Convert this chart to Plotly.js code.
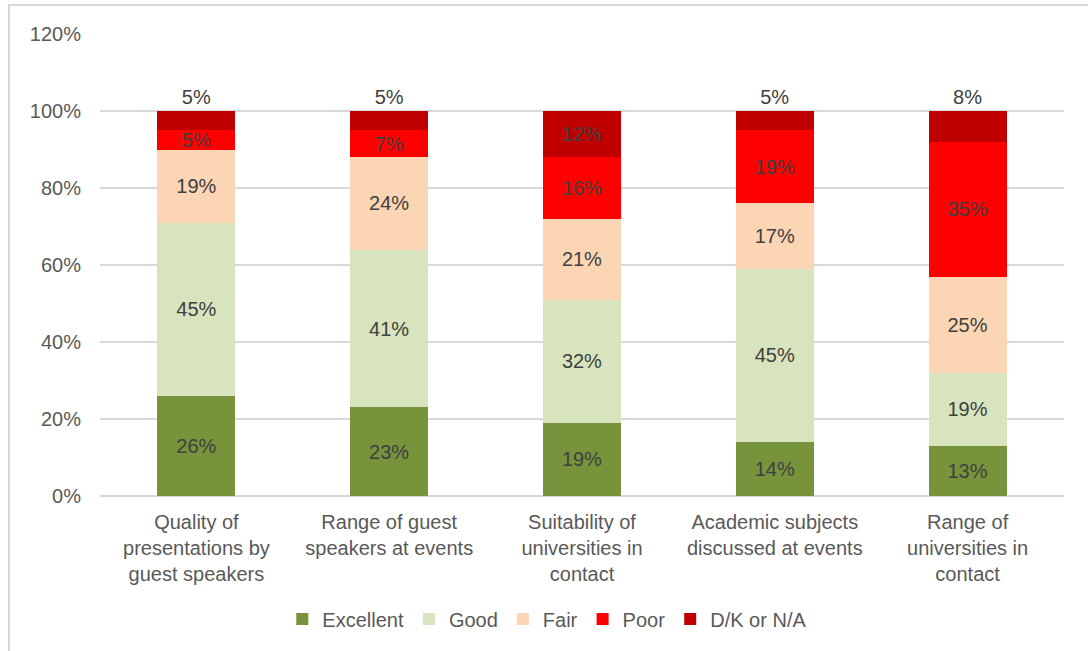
<!DOCTYPE html>
<html>
<head>
<meta charset="utf-8">
<script src="https://cdn.plot.ly/plotly-3.0.1.min.js"></script>
<style>
html,body{margin:0;padding:0;background:#fff;}
#frame{position:absolute;left:8px;top:4px;width:1100px;height:700px;border-left:2px solid #d9d9d9;border-top:2px solid #d9d9d9;}
#chart{position:absolute;left:0;top:0;width:1088px;height:651px;}
</style>
</head>
<body>
<div id="frame"></div>
<div id="chart"></div>
<script>
const categories = [
  "Quality of<br>presentations by<br>guest speakers",
  "Range of guest<br>speakers at events",
  "Suitability of<br>universities in<br>contact",
  "Academic subjects<br>discussed at events",
  "Range of<br>universities in<br>contact"
];
const seriesNames = ["Excellent", "Good", "Fair", "Poor", "D/K or N/A"];
const excellent = [26, 23, 19, 14, 13];
const good = [45, 41, 32, 45, 19];
const fair = [19, 24, 21, 17, 25];
const poor = [5, 7, 16, 19, 35];
const dk = [5, 5, 12, 5, 8];
const colors = ["#77933C", "#D7E4BD", "#FCD5B5", "#FF0000", "#C00000"];
const yTicks = [0, 20, 40, 60, 80, 100, 120];

const allValues = [excellent, good, fair, poor, dk];
const font = "Liberation Sans, Arial, sans-serif";

const traces = allValues.map((vals, i) => {
  const last = i === allValues.length - 1;
  return {
    type: "bar",
    name: seriesNames[i],
    x: categories,
    y: vals,
    marker: {color: colors[i], line: {width: 0}},
    text: vals.map(v => v + "%"),
    textposition: last ? vals.map(v => v >= 10 ? "inside" : "outside") : "inside",
    insidetextanchor: "middle",
    constraintext: "none",
    textangle: 0,
    textfont: {family: font, size: 20, color: "#404040"},
    outsidetextfont: {family: font, size: 20, color: "#404040"},
    insidetextfont: {family: font, size: 20, color: "#404040"},
    hoverinfo: "skip",
    cliponaxis: false
  };
});

const layout = {
  width: 1088,
  height: 651,
  paper_bgcolor: "rgba(0,0,0,0)",
  plot_bgcolor: "rgba(0,0,0,0)",
  barmode: "stack",
  bargap: 0.595,
  margin: {l: 100, r: 24, t: 34, b: 155, pad: 0},
  font: {family: font, size: 20, color: "#595959"},
  xaxis: {
    type: "category",
    showgrid: false,
    showline: false,
    ticks: "",
    ticklabelstandoff: 12,
    tickfont: {family: font, size: 20, color: "#595959"},
    fixedrange: true
  },
  yaxis: {
    range: [0, 120],
    tickvals: yTicks,
    ticktext: yTicks.map(v => v + "%"),
    showgrid: true,
    gridcolor: "#d9d9d9",
    gridwidth: 1.5,
    zeroline: true,
    zerolinecolor: "#d9d9d9",
    zerolinewidth: 1.5,
    showline: false,
    ticks: "",
    ticklabelstandoff: 18,
    tickfont: {family: font, size: 20, color: "#595959"},
    fixedrange: true
  },
  showlegend: true,
  legend: {
    orientation: "h",
    x: 0.464,
    xanchor: "center",
    y: -0.266,
    yanchor: "middle",
    font: {family: font, size: 20, color: "#595959"},
    itemclick: false,
    traceorder: "normal"
  }
};

Plotly.newPlot("chart", traces, layout, {displayModeBar: false, staticPlot: true});
</script>
</body>
</html>
